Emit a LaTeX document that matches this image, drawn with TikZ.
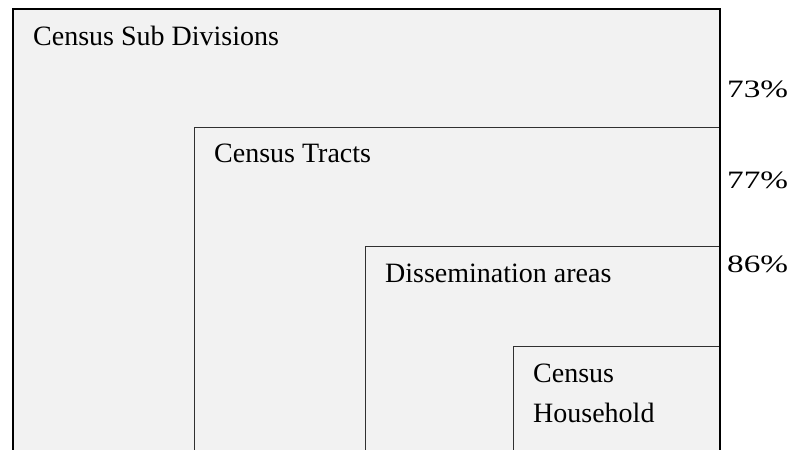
\documentclass[tikz,border=0pt]{standalone}
\usepackage{fontspec}
\setmainfont{Liberation Serif}
\definecolor{boxfill}{HTML}{F2F2F2}
\definecolor{edge}{HTML}{303030}
\tikzset{
  lbl/.style={anchor=base west, inner sep=0pt, font=\fontsize{28}{40}\selectfont, text=black},
  pct/.style={anchor=base west, inner sep=0pt, font=\fontsize{25}{30}\selectfont, text=black},
  innerbox/.style={draw=edge, line width=1pt, fill=boxfill},
}
\newcommand{\widepct}[1]{\scalebox{1.33}[1]{#1}}
\begin{document}
\begin{tikzpicture}[x=1pt,y=-1pt]
\useasboundingbox (0,0) rectangle (793,450);
\fill[white] (0,0) rectangle (793,450);
\begin{scope}
\clip (0,0) rectangle (793,450);
\fill[boxfill] (12.5,8.5) rectangle (720,480);
\draw[innerbox] (194,127) rectangle (720,480);
\draw[innerbox] (365,246) rectangle (720,480);
\draw[innerbox] (513,346) rectangle (720,480);
\draw[black, line width=2pt] (12.5,480) -- (12.5,8.5) -- (720,8.5) -- (720,480);
\end{scope}
\node[lbl] (csd) at (33,45) {Census Sub Divisions};
\node[lbl] (ct) at (214,162) {Census Tracts};
\node[lbl] (da) at (385,282) {Dissemination areas};
\node[lbl, align=left] (ch) at (533,422) {Census\\Household};
\node[pct] (p1) at (727,97) {\widepct{73\%}};
\node[pct] (p2) at (727,188) {\widepct{77\%}};
\node[pct] (p3) at (727,272) {\widepct{86\%}};
\end{tikzpicture}
\end{document}
